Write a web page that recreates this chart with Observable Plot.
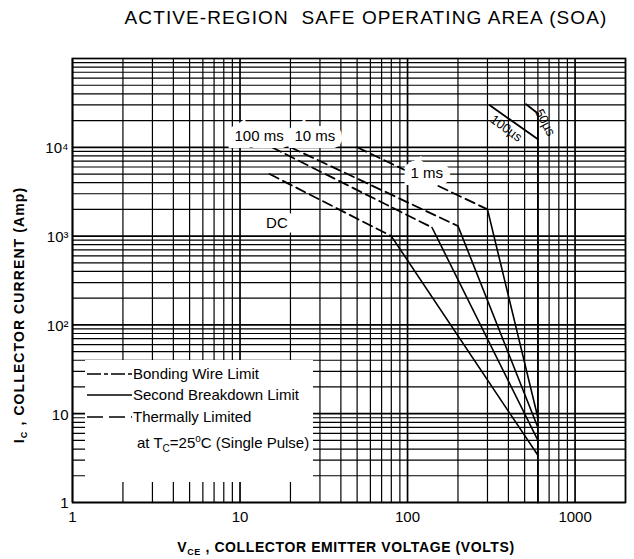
<!DOCTYPE html>
<html><head><meta charset="utf-8">
<script src="https://cdn.jsdelivr.net/npm/d3@7"></script>
<script src="https://cdn.jsdelivr.net/npm/@observablehq/plot@0.6"></script>
<style>
body{margin:0;background:#fff;font-family:"Liberation Sans",Arial,sans-serif;}
#wrap{position:relative;width:634px;height:559px;overflow:hidden;}
#title{position:absolute;left:366px;top:18px;transform:translate(-50%,-50%);white-space:nowrap;font-size:19px;letter-spacing:1.1px;color:#000;}
#chart{position:absolute;left:0;top:40px;}
#legend{position:absolute;left:85px;top:360px;width:228px;height:122px;background:#fff;}
#ylab{position:absolute;left:20px;top:315px;transform:translate(-50%,-50%) rotate(-90deg);white-space:nowrap;font-weight:bold;font-size:14px;letter-spacing:1.1px;}
#xlab{position:absolute;left:346px;top:548px;transform:translate(-50%,-50%);white-space:nowrap;font-weight:bold;font-size:14px;letter-spacing:0.6px;}
</style></head>
<body>
<div id="wrap">
<div id="title">ACTIVE-REGION&nbsp;&nbsp;SAFE OPERATING AREA (SOA)</div>
<div id="chart"></div>
<div id="legend"></div>
<div id="ylab">I<sub style="font-size:9px">C</sub> , COLLECTOR CURRENT (Amp)</div>
<div id="xlab">V<sub style="font-size:9px">CE</sub> , COLLECTOR EMITTER VOLTAGE (VOLTS)</div>
</div>
<script>
// ---- data ----
const xTickValues = [1, 10, 100, 1000];
const xTickLabels = ["1", "10", "100", "1000"];
const yTickValues = [1, 10, 100, 1000, 10000];
const yTickLabels = ["1", "10", "10²", "10³", "10⁴"];

// thermal (dashed) then second breakdown (solid) segments
const dcV = [15, 80, 600];
const dcI = [5000, 1000, 3.4];
const ms100V = [15.5, 140, 600];
const ms100I = [10000, 1250, 5];
const ms10V = [20, 200, 600];
const ms10I = [10000, 1300, 7];
const ms1V = [50, 300, 600];
const ms1I = [10000, 2000, 9];
const us100V = [308, 600];
const us100I = [30000, 12300];
const us5V = [510, 600];
const us5I = [30500, 24000];
const vceMaxV = [600, 600];
const vceMaxI = [24000, 1];

const curveNames = ["100 ms", "10 ms", "1 ms", "DC", "100µs", "50µs"];
const labelV = [13, 28, 130, 16.6, 388, 663];
const labelI = [13300, 13300, 5100, 1400, 16300, 19000];

// ---- build tables ----
function seg(name, V, I, a, b) { return V.slice(a, b + 1).map((v, k) => ({name, V: v, I: I[a + k]})); }
const series = [["DC", dcV, dcI], ["100 ms", ms100V, ms100I], ["10 ms", ms10V, ms10I], ["1 ms", ms1V, ms1I]];
const dashed = series.flatMap(([n, V, I]) => seg(n, V, I, 0, 1));
const solid = series.flatMap(([n, V, I]) => seg(n, V, I, 1, 2));
const pulse = [...seg("100µs", us100V, us100I, 0, 1), ...seg("50µs", us5V, us5I, 0, 1), ...seg("vmax", vceMaxV, vceMaxI, 0, 1)];

const xGrid = d3.scaleLog().domain([1, 2000]).ticks();
const yGrid = d3.scaleLog().domain([1, 100000]).ticks();
const labels = curveNames.map((n, i) => ({n, V: labelV[i], I: labelI[i]}));

const font = "'Liberation Sans',Arial,sans-serif";
const plot = Plot.plot({
  width: 634, height: 519,
  marginLeft: 72, marginRight: 9, marginTop: 18, marginBottom: 57,
  style: {fontFamily: font, background: "white", color: "#000", overflow: "visible"},
  x: {type: "log", domain: [1, 2000], axis: null},
  y: {type: "log", domain: [1, 100000], axis: null},
  marks: [
    Plot.ruleX(xGrid, {stroke: "#000", strokeWidth: d => xTickValues.includes(d) ? 1.7 : 1.2}),
    Plot.ruleY(yGrid, {stroke: "#000", strokeWidth: d => yTickValues.includes(d) ? 1.7 : 1.2}),
    Plot.frame({stroke: "#000", strokeWidth: 1.7}),
    Plot.text(xTickValues, {x: d => d, frameAnchor: "bottom", dy: 19, text: d => xTickLabels[xTickValues.indexOf(d)], fontSize: 15, fill: "#000"}),
    Plot.text(yTickValues, {y: d => d, frameAnchor: "left", dx: -4, dy: 1, textAnchor: "end", text: d => yTickLabels[yTickValues.indexOf(d)], fontSize: 15, fill: "#000"}),
    Plot.line(dashed, {x: "V", y: "I", z: "name", stroke: "#000", strokeWidth: 1.8, strokeDasharray: "10,5"}),
    Plot.line(solid, {x: "V", y: "I", z: "name", stroke: "#000", strokeWidth: 1.6}),
    Plot.line(pulse, {x: "V", y: "I", z: "name", stroke: "#000", strokeWidth: 1.8}),
    Plot.text(labels.slice(0, 4), {x: "V", y: "I", text: "n", fontSize: 15, fill: "#000", stroke: "white", strokeWidth: 14, strokeLinejoin: "miter"}),
    Plot.text(labels.slice(4, 5), {x: "V", y: "I", text: "n", fontSize: 13, fill: "#000", rotate: 36}),
    Plot.text(labels.slice(5, 6), {x: "V", y: "I", text: "n", fontSize: 13, fill: "#000", rotate: 62})
  ]
});
document.getElementById("chart").appendChild(plot);

// legend
const lg = d3.select("#legend").append("svg").attr("width", 228).attr("height", 122).style("font-family", font);
const rows = [
  {t: "Bonding Wire Limit", y: 14, dash: "14,3,4,3"},
  {t: "Second Breakdown Limit", y: 35, dash: null},
  {t: "Thermally Limited", y: 57, dash: "16,6"}
];
rows.forEach(r => {
  lg.append("line").attr("x1", 2).attr("x2", 47).attr("y1", r.y).attr("y2", r.y).attr("stroke", "#000").attr("stroke-width", 1.6).attr("stroke-dasharray", r.dash);
  lg.append("text").attr("x", 48).attr("y", r.y).attr("dy", "0.35em").attr("font-size", 15).text(r.t);
});
const t4 = lg.append("text").attr("x", 52).attr("y", 83).attr("dy", "0.35em").attr("font-size", 15);
t4.append("tspan").text("at T");
t4.append("tspan").attr("font-size", 10).attr("dy", 4).text("C");
t4.append("tspan").attr("dy", -4).text("=25");
t4.append("tspan").attr("font-size", 10).attr("dy", -6).text("o");
t4.append("tspan").attr("dy", 6).text("C (Single Pulse)");
</script>
</body></html>
